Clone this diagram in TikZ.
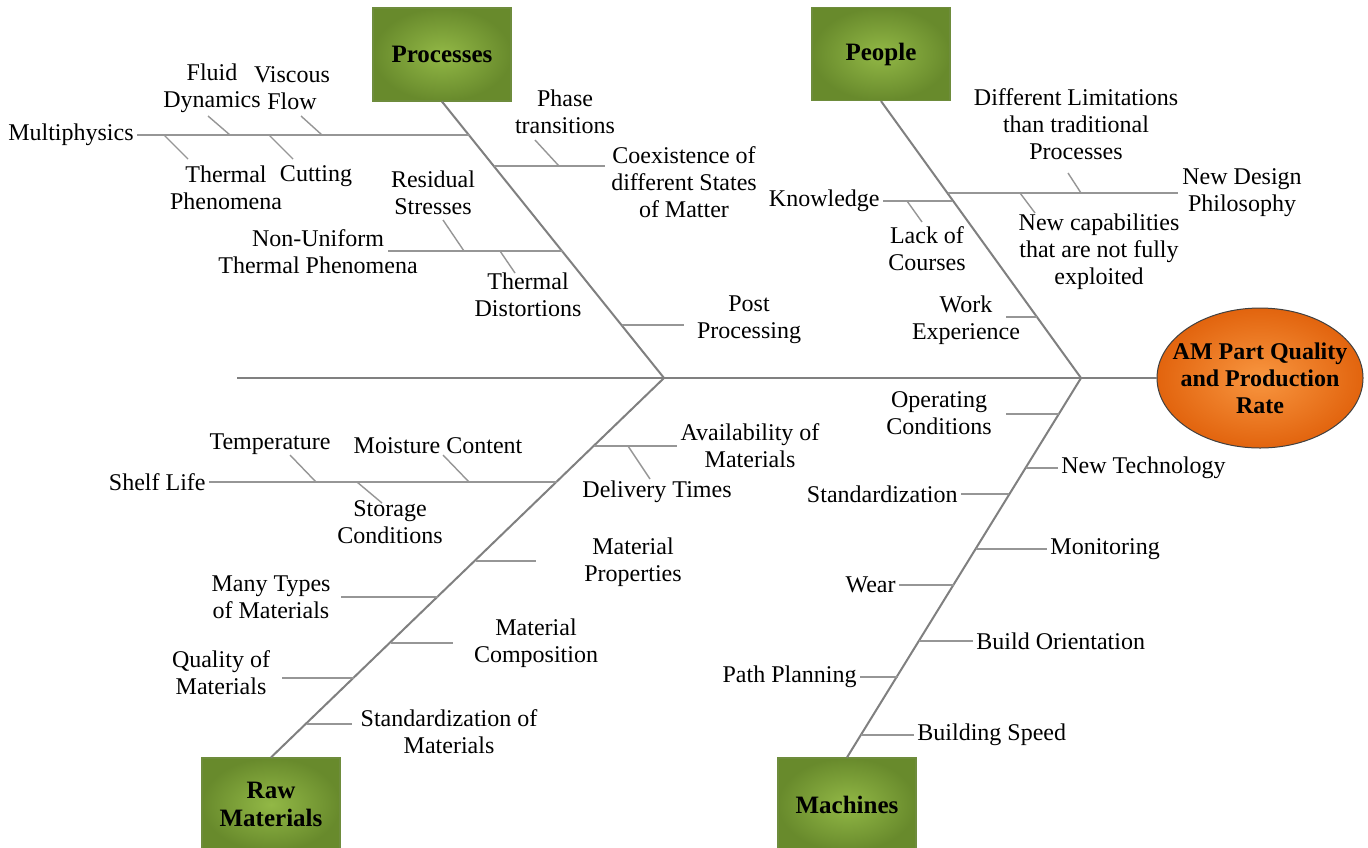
\documentclass[tikz,border=0pt]{standalone}
\usepackage{fontspec}
\setmainfont{Liberation Serif}
\begin{document}
\begin{tikzpicture}[x=0.5pt,y=-0.5pt,
  bone/.style={draw=bonegray, line width=1pt},
  twig/.style={draw=twiggray, line width=0.7pt},
  lbl/.style={font=\fontsize{12}{13.5}\selectfont, align=center, inner sep=1.5pt},
  catbox/.style={rectangle, minimum width=69pt, minimum height=46.5pt,
    inner color=boxlight, outer color=boxdark, draw=boxedge, line width=0.6pt,
    font=\fontsize{12.5}{14}\selectfont\bfseries, align=center},
  effectfill/.style={inner color=orangelight, outer color=orangedark, draw=black!75, line width=0.5pt},
  effecttext/.style={font=\fontsize{12}{13.5}\selectfont\bfseries, align=center, inner sep=0pt}
]
\definecolor{bonegray}{RGB}{128,128,128}
\definecolor{twiggray}{RGB}{150,150,150}
\definecolor{boxlight}{RGB}{146,184,70}
\definecolor{boxdark}{RGB}{104,138,44}
\definecolor{boxedge}{RGB}{110,140,60}
\definecolor{orangelight}{RGB}{248,150,64}
\definecolor{orangedark}{RGB}{226,100,14}

\clip (0,0) rectangle (1368,847);
\fill[white] (0,0) rectangle (1368,847);

% effect (head of the fish) and spine
\path[effectfill] (1260,378) ellipse [x radius=103, y radius=70];
\node[effecttext] (effect) at (1260,378) {AM Part Quality\\and Production\\Rate};
\coordinate (effwest) at (1157,378);
\coordinate (tail) at (237,378);
\coordinate (pjoint) at (664,378);
\coordinate (hjoint) at (1081,378);
\draw[bone] (tail) -- (effwest);

% category boxes
\node[catbox] (proc) at (442,54.5) {Processes};
\node[catbox] (people) at (881,54) {People};
\node[catbox] (raw) at (271,804.5) {Raw\\Materials};
\node[catbox] (mach) at (847,804.5) {Machines};

% main bones
\draw[bone] (proc.south) -- (pjoint);
\draw[bone] (raw.north) -- (pjoint);
\draw[bone] (people.south) -- (hjoint);
\draw[bone] (mach.north) -- (hjoint);

% ---------- Processes ----------
\node[lbl, anchor=east] (multi) at (137,135) {Multiphysics};
\node[lbl] (fluid) at (212,88) {Fluid\\Dynamics};
\node[lbl] (visc) at (292,88) {Viscous\\Flow};
\node[lbl] (thph) at (226,188) {Thermal\\Phenomena};
\node[lbl] (cut) at (316,176) {Cutting};
\node[lbl] (phase) at (565,112) {Phase\\transitions};
\node[lbl] (coex) at (684,182) {Coexistence of\\different States\\of Matter};
\node[lbl] (resid) at (433,193) {Residual\\Stresses};
\node[lbl] (nonu) at (318,252) {Non-Uniform\\Thermal Phenomena};
\node[lbl] (tdist) at (528,295) {Thermal\\Distortions};
\node[lbl] (post) at (749,320) {Post\\Processing};

\coordinate (m1) at (470,135);
\draw[twig] (multi.east) -- (m1);
\coordinate (f1) at (208,116); \coordinate (f2) at (230,135);
\draw[twig] (f1) -- (f2);
\coordinate (v1) at (301,116); \coordinate (v2) at (322,135);
\draw[twig] (v1) -- (v2);
\coordinate (t1) at (164,135); \coordinate (t2) at (188,159);
\draw[twig] (t1) -- (t2);
\coordinate (c1) at (269,135); \coordinate (c2) at (293,159);
\draw[twig] (c1) -- (c2);

\coordinate (co1) at (494,166); \coordinate (co2) at (605,166);
\draw[twig] (co1) -- (co2);
\coordinate (ph1) at (535,140); \coordinate (ph2) at (559,166);
\draw[twig] (ph1) -- (ph2);

\coordinate (n1) at (388,251); \coordinate (n2) at (563,251);
\draw[twig] (n1) -- (n2);
\coordinate (r1) at (443,220); \coordinate (r2) at (464,251);
\draw[twig] (r1) -- (r2);
\coordinate (d1) at (500,251); \coordinate (d2) at (515,273);
\draw[twig] (d1) -- (d2);

\coordinate (pp1) at (622,325); \coordinate (pp2) at (684,325);
\draw[twig] (pp1) -- (pp2);

% ---------- People ----------
\node[lbl, anchor=east] (know) at (883,201) {Knowledge};
\node[lbl] (lack) at (927,249) {Lack of\\Courses};
\node[lbl] (difl) at (1076,124) {Different Limitations\\than traditional\\Processes};
\node[lbl] (ndp) at (1242,193) {New Design\\Philosophy};
\node[lbl] (ncap) at (1099,252) {New capabilities\\that are not fully\\exploited};
\node[lbl] (work) at (966,320) {Work\\Experience};

\coordinate (k1) at (952,201);
\draw[twig] (know.east) -- (k1);
\coordinate (l1) at (907,201); \coordinate (l2) at (922,222);
\draw[twig] (l1) -- (l2);
\coordinate (nd1) at (948,193); \coordinate (nd2) at (1178,193);
\draw[twig] (nd1) -- (nd2);
\coordinate (dl1) at (1068,173); \coordinate (dl2) at (1081,193);
\draw[twig] (dl1) -- (dl2);
\coordinate (nc1) at (1020,193); \coordinate (nc2) at (1035,213);
\draw[twig] (nc1) -- (nc2);
\coordinate (w1) at (1006,317); \coordinate (w2) at (1037,317);
\draw[twig] (w1) -- (w2);

% ---------- Machines ----------
\node[lbl] (oper) at (939,413) {Operating\\Conditions};
\node[lbl, anchor=west] (newt) at (1058,468) {New Technology};
\node[lbl, anchor=east] (stdz) at (961,494) {Standardization};
\node[lbl, anchor=west] (moni) at (1047,549) {Monitoring};
\node[lbl, anchor=east] (wear) at (899,585) {Wear};
\node[lbl, anchor=west] (bori) at (973,641) {Build Orientation};
\node[lbl, anchor=east] (path) at (860,677) {Path Planning};
\node[lbl, anchor=west] (bspd) at (914,735) {Building Speed};

\coordinate (o1) at (1006,414); \coordinate (o2) at (1059,414);
\draw[twig] (o1) -- (o2);
\coordinate (nt1) at (1026,468);
\draw[twig] (nt1) -- (newt.west);
\coordinate (sz1) at (1009,494);
\draw[twig] (stdz.east) -- (sz1);
\coordinate (mo1) at (976,549);
\draw[twig] (mo1) -- (moni.west);
\coordinate (we1) at (954,585);
\draw[twig] (wear.east) -- (we1);
\coordinate (bo1) at (919,641);
\draw[twig] (bo1) -- (bori.west);
\coordinate (pa1) at (898,677);
\draw[twig] (path.east) -- (pa1);
\coordinate (bs1) at (861,735);
\draw[twig] (bs1) -- (bspd.west);

% ---------- Raw Materials ----------
\node[lbl] (avail) at (750,446) {Availability of\\Materials};
\node[lbl] (deliv) at (657,492) {Delivery Times};
\node[lbl, anchor=east] (shelf) at (209,482) {Shelf Life};
\node[lbl] (temp) at (270,444) {Temperature};
\node[lbl] (moist) at (438,446) {Moisture Content};
\node[lbl] (stor) at (390,522) {Storage\\Conditions};
\node[lbl] (mprop) at (633,562) {Material\\Properties};
\node[lbl] (many) at (271,597) {Many Types\\of Materials};
\node[lbl] (mcomp) at (536,643) {Material\\Composition};
\node[lbl] (qual) at (221,673) {Quality of\\Materials};
\node[lbl] (stdm) at (449,732) {Standardization of\\Materials};

\coordinate (a1) at (594,446); \coordinate (a2) at (677,446);
\draw[twig] (a1) -- (a2);
\coordinate (dt1) at (628,446); \coordinate (dt2) at (650,479);
\draw[twig] (dt1) -- (dt2);
\coordinate (s1) at (557,482);
\draw[twig] (shelf.east) -- (s1);
\coordinate (te1) at (290,455); \coordinate (te2) at (316,482);
\draw[twig] (te1) -- (te2);
\coordinate (mc1) at (443,455); \coordinate (mc2) at (469,482);
\draw[twig] (mc1) -- (mc2);
\coordinate (sc1) at (357,482); \coordinate (sc2) at (382,503);
\draw[twig] (sc1) -- (sc2);
\coordinate (mp1) at (476,561); \coordinate (mp2) at (536,561);
\draw[twig] (mp1) -- (mp2);
\coordinate (mt1) at (341,597); \coordinate (mt2) at (438,597);
\draw[twig] (mt1) -- (mt2);
\coordinate (cm1) at (391,643); \coordinate (cm2) at (453,643);
\draw[twig] (cm1) -- (cm2);
\coordinate (q1) at (282,678); \coordinate (q2) at (354,678);
\draw[twig] (q1) -- (q2);
\coordinate (sm1) at (307,724); \coordinate (sm2) at (352,724);
\draw[twig] (sm1) -- (sm2);
\end{tikzpicture}
\end{document}
